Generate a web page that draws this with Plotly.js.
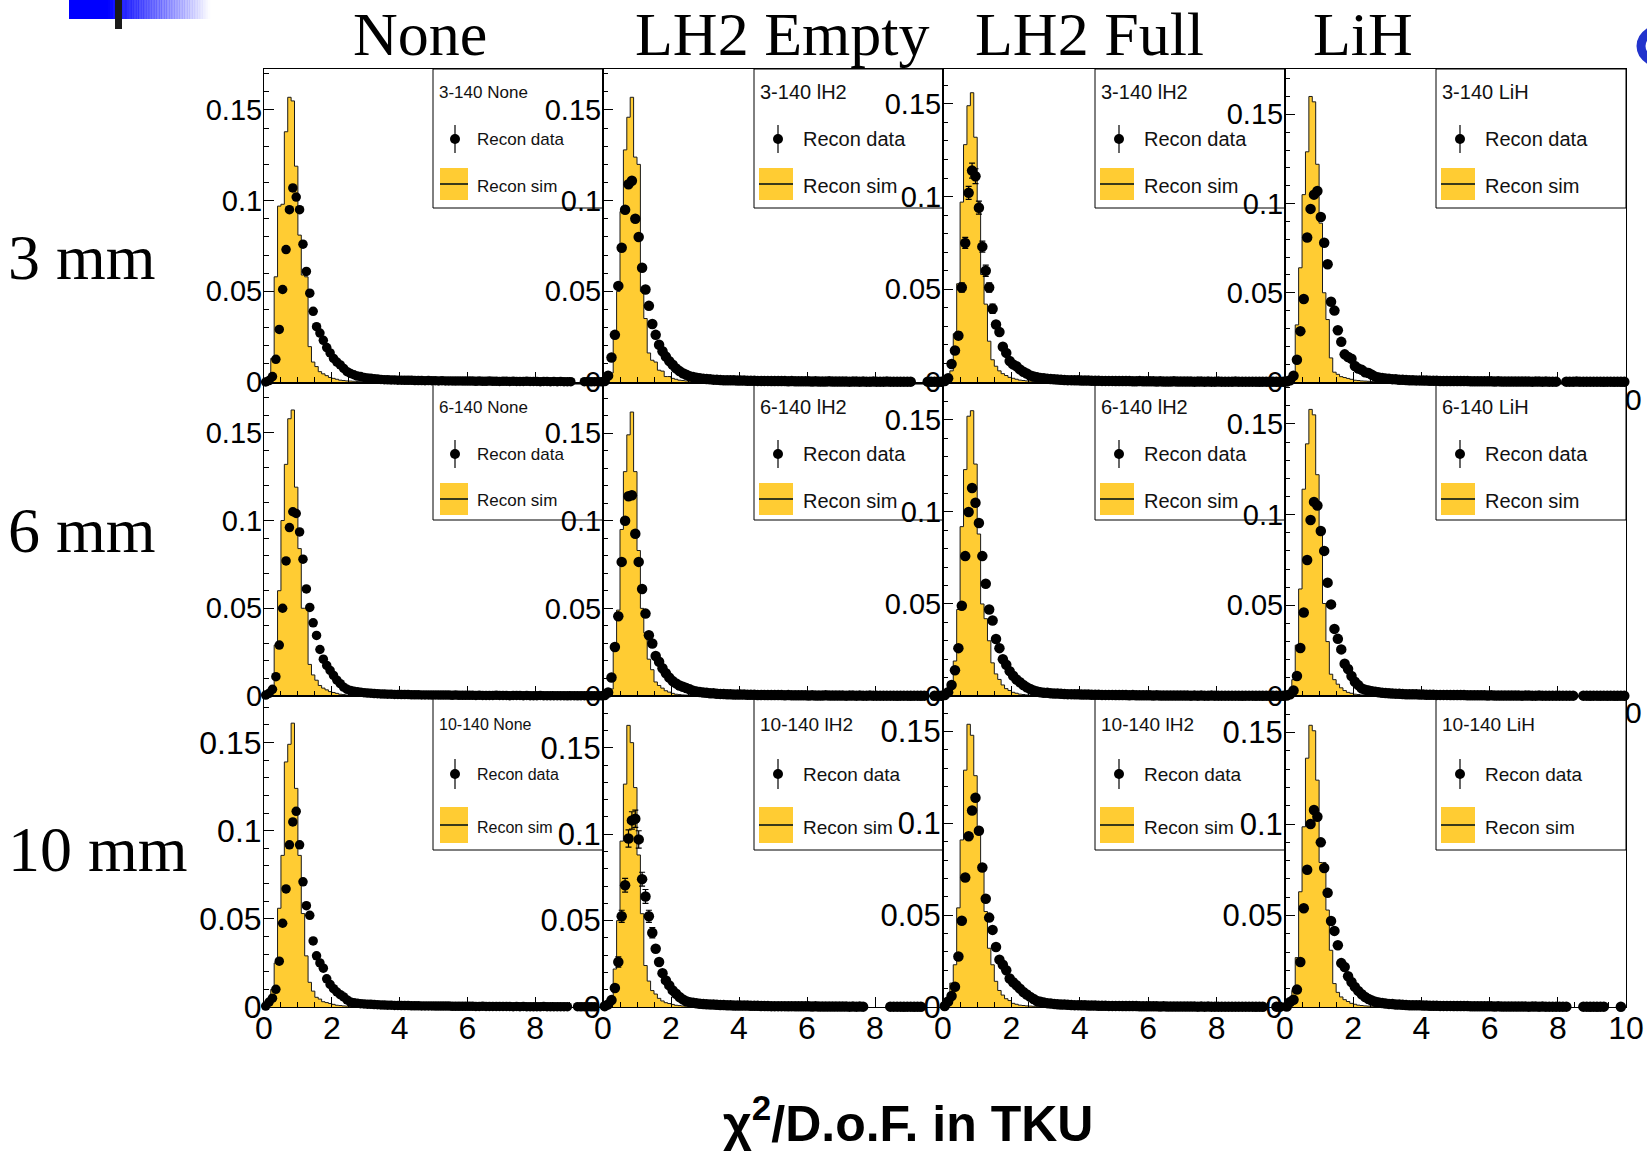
<!DOCTYPE html>
<html><head><meta charset="utf-8">
<script src="https://cdn.plot.ly/plotly-3.0.1.min.js"></script>
<style>html,body{margin:0;padding:0;background:#fff;} #chart{width:1647px;height:1152px;}</style>
</head><body><div id="chart"></div>
<script>
// All histogram contents below are listed in thousandths (x 1e-3), 0.1-wide bins from 0 to 10.
const UNIT = 0.001;
const columnTitles = ['None', 'LH2 Empty', 'LH2 Full', 'LiH'];
const rowTitles = ['3 mm', '6 mm', '10 mm'];
const legendTitles = [
  ['3-140 None', '3-140 lH2', '3-140 lH2', '3-140 LiH'],
  ['6-140 None', '6-140 lH2', '6-140 lH2', '6-140 LiH'],
  ['10-140 None', '10-140 lH2', '10-140 lH2', '10-140 LiH']
];
const dataLabel = 'Recon data', simLabel = 'Recon sim';
const xTitle = 'χ<sup>2</sup>/D.o.F. in TKU';
const xTickValsInner = [0, 2, 4, 6, 8];
const xTickValsLast = [0, 2, 4, 6, 8, 10];

// ---------- 3 mm ----------
const sim_3mm_None = [0.5,2,13,58,97,98,138,157,155,119, 81,59,58,19.5,11,8.5,5.7,4.5,3.5,2.5, 2,1.5,1,0.8,0.6,0.5,0.4,0.3,0.2,0.1];
const data_3mm_None = [
 0,0.8,3,12.5,29,51,73,95,107,102,
 95,76,61,49,39,30.5,27,23,19,16,
 13,11,9.4,7.5,5.7,4.7,4,3.3,3,2.5,
 2.2,2,1.8,1.6,1.4,1.3,1.2,1.1,1.1,1,
 1,0.9,0.9,0.9,0.8,0.8,0.8,0.7,0.8,0.7,
 0.7,0.6,0.7,0.6,0.6,0.6,0.5,0.6,0.5,0.5,
 0.5,0.5,0.4,0.5,0.4,0.4,0.5,0.4,0.4,0.3,
 0.4,0.4,0.3,0.4,0.3,0.3,0.3,0.4,0.3,0.3,
 0.3,0.2,0.3,0.3,0.2,0.3,0.2,0.3,0.2,0.2,
 0.2,null,null,null,0.2,0.2,0.1,0.2,0.2,0.1];
const sim_3mm_LH2Empty = [0.5,2,5,26,50,94,128,146,157,124, 120,50,35,16,12,11,6.5,6,3,3, 2,1.5,1,0.8,0.6,0.5,0.4,0.3,0.2,0.1];
const data_3mm_LH2Empty = [
 0.5,3.5,13.5,26,53,74,95,109,111,90,
 80,63,51,42,32,26,20.5,17,14,11.5,
 9.5,7.5,6,4.8,4,3.2,2.7,2.3,2,1.8,
 1.6,1.5,1.3,1.2,1.1,1,1,0.9,0.9,0.8,
 0.8,0.8,0.7,0.7,0.7,0.6,0.6,0.6,0.6,0.5,
 0.5,0.5,0.5,0.5,0.4,0.5,0.4,0.4,0.4,0.4,
 0.4,0.3,0.4,0.3,0.3,0.3,0.4,0.3,0.3,0.3,
 0.3,0.3,0.2,0.3,0.3,0.2,0.3,0.2,0.2,0.3,
 0.2,0.2,0.2,0.3,0.2,0.2,0.2,0.2,0.2,0.2,
 0.2,null,null,null,null,0.2,0.1,0.2,0.1,0.1];
const sim_3mm_LH2Full = [0.5,2,6,26,53,97,128,149,156,132, 97,58,42,22,12,8.5,6,4.5,3.5,2.5, 2,1.5,1,0.8,0.6,0.5,0.4,0.3,0.2,0.1];
const data_3mm_LH2Full = [
 0.5,2,9.7,17,25,51,75,102,114,111,
 94,73,60,51,39.5,31,27,19,15.7,11.3,
 9.5,8.5,6.8,5.5,4.6,3.5,3,2.6,2.2,2,
 1.8,1.6,1.5,1.3,1.2,1.1,1,1,0.9,0.9,
 0.8,0.8,0.8,0.7,0.7,0.7,0.6,0.6,0.6,0.6,
 0.5,0.5,0.5,0.5,0.5,0.4,0.4,0.5,0.4,0.4,
 0.4,0.4,0.3,0.4,0.3,0.3,0.3,0.4,0.3,0.3,
 0.3,0.3,0.3,0.2,0.3,0.3,0.2,0.3,0.2,0.2,
 0.3,0.2,0.2,0.2,0.2,0.3,0.2,0.2,0.2,0.2,
 0.2,0.2,0.1,0.2,0.2,0.1,0.2,0.1,0.1,0.1];
const err_3mm_LH2Full = [0,0.4,1,1.5,2,2.5,3,3.5,4,4, 3.5,3,3,2.5,2.5];
const sim_3mm_LiH = [0.3,1,3,32,64,105,129,160,157,122, 89,50,35,13.5,5.5,4.3,3,2.5,2,1.5, 1,0.8,0.6,0.5,0.4,0.3,0.2,0.1];
const data_3mm_LiH = [
 0.3,1,3.5,12.5,28.5,46.5,81,97,105,107,
 92.5,78,66,45,40,29,22.5,15.5,14,13,
 9,7.5,6.8,5.5,5,4,3,2.5,2.2,2,
 1.8,1.6,1.5,1.3,1.2,1.1,1,1,0.9,0.9,
 0.8,0.8,0.7,0.7,0.7,0.6,0.6,0.6,0.5,0.6,
 0.5,0.5,0.5,0.5,0.4,0.4,0.4,0.4,0.4,0.4,
 0.4,0.3,0.4,0.3,0.3,0.3,0.3,0.3,0.3,0.3,
 0.3,0.3,0.2,0.3,0.3,0.2,0.3,0.2,0.2,0.2,
 null,null,0.2,0.2,0.2,0.3,0.2,0.2,0.2,0.2,
 0.2,0.2,0.2,0.1,0.2,0.2,0.1,0.2,0.1,0.1];

// ---------- 6 mm ----------
const sim_6mm_None = [0.5,2,4,29,60,100,132,158,163,119, 84,50,50,18,12,9,6,4.5,3.5,2.5, 2,1.5,1,0.8,0.6,0.5,0.4,0.3,0.2,0.1];
const data_6mm_None = [
 0.5,1.5,3.8,11,29,50,77,96,105,104,
 93.5,78,61,50.5,41.7,34.5,26.5,21,17.4,14.6,
 11.7,9,7,5,3.8,3.2,2.7,2.4,2.1,1.9,
 1.7,1.6,1.4,1.3,1.2,1.1,1,1,0.9,0.9,
 0.8,0.8,0.8,0.7,0.7,0.7,0.6,0.6,0.6,0.5,
 0.6,0.5,0.5,0.5,0.5,0.4,0.5,0.4,0.4,0.4,
 0.4,0.4,0.3,0.4,0.3,0.3,0.3,0.3,0.4,0.3,
 0.3,0.3,0.2,0.3,0.3,0.3,0.2,0.3,0.2,0.2,
 0.2,0.3,0.2,0.2,0.2,0.2,0.2,0.2,0.2,0.1,
 0.2,0.2,0.1,0.2,0.2,0.1,0.1,0.2,0.1,0.1];
const sim_6mm_LH2Empty = [0.5,1,4,28,49,95,128,149,162,128, 83,50,36,21,15,8,6,4.5,3,2.2, 1.5,1,0.8,0.6,0.5,0.4,0.3,0.2,0.1];
const data_6mm_LH2Empty = [
 0.5,2,10.6,28,45.5,76.5,100,114,114.5,92.6,
 76.5,61,47,34.7,30,22.8,19.5,15.8,13,10.5,
 8.5,7.2,6,5.3,4.5,3.8,3,2.6,2.3,2,
 1.8,1.6,1.5,1.3,1.2,1.1,1,1,0.9,0.9,
 0.8,0.8,0.7,0.7,0.7,0.6,0.6,0.6,0.6,0.5,
 0.5,0.5,0.5,0.4,0.5,0.4,0.4,0.4,0.4,0.4,
 0.3,0.4,0.3,0.3,0.3,0.4,0.3,0.3,0.3,0.3,
 0.3,0.2,0.3,0.3,0.2,0.3,0.2,0.2,0.3,0.2,
 0.2,0.2,0.2,0.2,0.2,0.2,0.1,0.2,0.2,0.2,
 0.1,0.2,0.2,0.1,0.2,null,null,0.1,0.2,0.1];
const sim_6mm_LH2Full = [0.5,1,4,19,47,92,123,152,155,126, 88,50,42,30,18,12,9,6,4,3, 2,1.5,1,0.8,0.6,0.5,0.4,0.3,0.2,0.1];
const data_6mm_LH2Full = [
 0.5,2,6,14,26,49,76,100,113,105,
 94,76,61,47,41,31,26,20,17,13.5,
 11,9,7.5,6,4.7,3.8,3,2.5,2,1.8,
 1.7,1.5,1.4,1.3,1.2,1.1,1,1,0.9,0.9,
 0.8,0.8,0.8,0.7,0.7,0.7,0.6,0.6,0.6,0.6,
 0.5,0.5,0.5,0.5,0.4,0.5,0.4,0.4,0.4,0.4,
 0.4,0.3,0.4,0.3,0.3,0.3,0.3,0.3,0.3,0.3,
 0.3,0.3,0.2,0.3,0.2,0.3,0.2,0.2,0.3,0.2,
 0.2,0.2,0.2,0.2,0.2,0.2,0.2,0.1,0.2,0.2,
 0.2,0.1,0.2,0.1,0.2,0.1,0.1,0.2,0.1,0.1];
const sim_6mm_LiH = [0.3,1,9,28,59,114,139,158,155,122, 90,51,30,12,9,6.5,4.5,3,2,1.5, 1,0.8,0.6,0.5,0.4,0.3,0.2,0.1];
const data_6mm_LiH = [
 0.3,1,3,11,26.5,46,75,97,107,105,
 91,80,62.5,50.5,37,31.5,25.7,17.8,14.9,11,
 7.9,6,4.2,3.5,3,2.6,2.3,2,1.8,1.6,
 1.5,1.4,1.3,1.2,1.1,1,1,0.9,0.9,0.8,
 0.8,0.7,0.7,0.7,0.6,0.6,0.6,0.6,0.5,0.5,
 0.5,0.5,0.5,0.4,0.4,0.4,0.4,0.4,0.4,0.3,
 0.4,0.3,0.3,0.3,0.3,0.3,0.3,0.3,0.3,0.2,
 0.3,0.3,0.2,0.2,0.3,0.2,0.2,0.2,0.2,0.2,
 0.2,0.2,0.2,0.2,0.2,null,null,0.2,0.2,0.1,
 0.2,0.2,0.1,0.2,0.1,0.2,0.1,0.1,0.2,0.1];

// ---------- 10 mm ----------
const sim_10mm_None = [0.5,2,10,25,56,86,139,149,161,124, 86,53,29,14,9,5.5,4.5,3,2.5,2, 1.5,1,0.8,0.6,0.5,0.4,0.3,0.2,0.1];
const data_10mm_None = [
 0.5,2.8,5,10,26,47.5,67,92,105,111,
 92,71,57.5,52,37.5,29,25,22,16,12.8,
 10.4,8.5,7,5.7,4,2.8,2.4,2.1,1.9,1.7,
 1.6,1.5,1.4,1.3,1.2,1.1,1,1,0.9,0.9,
 0.8,0.8,0.8,0.7,0.7,0.7,0.6,0.6,0.6,0.6,
 0.5,0.5,0.5,0.5,0.5,0.4,0.4,0.4,0.4,0.4,
 0.4,0.4,0.3,0.3,0.4,0.3,0.3,0.3,0.3,0.3,
 0.3,0.3,0.3,0.2,0.3,0.2,0.3,0.2,0.2,0.2,
 0.2,0.2,0.3,0.2,0.2,0.2,0.2,0.2,0.2,0.2,
 null,null,0.2,0.1,0.2,0.2,0.1,0.1,null,null];
const sim_10mm_LH2Empty = [0.5,2,5,22,50,96,129,163,153,127, 88,54,24,15,9.5,7.5,5,3.5,2.5,2, 1.5,1,0.8,0.6,0.5,0.4,0.3,0.2,0.1];
const data_10mm_LH2Empty = [
 0.5,1.5,4,11,26,52.5,70.5,97.5,108,109,
 97,74,64,52.5,43,33.7,26,19.6,15.4,12.5,
 9.6,7.7,5.8,4.4,3.3,2.8,2.4,2.1,1.9,1.7,
 1.6,1.5,1.4,1.3,1.2,1.1,1,1,0.9,0.9,
 0.8,0.8,0.8,0.7,0.7,0.7,0.6,0.6,0.6,0.5,
 0.5,0.5,0.5,0.5,0.4,0.5,0.4,0.4,0.4,0.4,
 0.4,0.3,0.4,0.3,0.3,0.3,0.3,0.3,0.3,0.3,
 0.3,0.3,0.2,0.3,0.2,0.3,0.2,null,null,null,
 null,null,null,null,0.2,0.2,0.2,0.2,0.1,0.2,
 0.2,0.1,0.2,0.1,null,null,null,null,null,null];
const err_10mm_LH2Empty = [0,0.5,1,2,3,3.5,4,5,5,5, 5,4,4,3.5,3];
const sim_10mm_LH2Full = [0.5,3,13,23,54,91,129,154,148,126, 98,75,52,32,23,14,9,6.5,4.5,3.5, 2,1.5,1,0.8,0.6,0.5,0.4,0.3,0.2,0.1];
const data_10mm_LH2Full = [
 0.5,3,6,11,27.5,47,70.5,93,107,114,
 96,76,59,48.7,42,32.7,25.8,23,20,15.5,
 13.5,11.8,10,8.2,6.8,5.5,4.4,3.3,2.8,2.4,
 2.1,1.9,1.7,1.5,1.4,1.3,1.2,1.1,1,1,
 0.9,0.9,0.8,0.8,0.8,0.7,0.7,0.7,0.6,0.6,
 0.6,0.6,0.5,0.5,0.5,0.5,0.5,0.4,0.4,0.4,
 0.4,0.4,0.4,0.3,0.4,0.3,0.3,0.3,0.3,0.3,
 0.3,0.3,0.3,0.3,0.2,0.3,0.2,0.3,0.2,0.2,
 0.2,0.2,0.2,0.2,0.2,0.2,0.2,0.2,0.2,0.2,
 0.2,0.1,0.2,0.1,null,null,null,0.2,0.1,null];
const sim_10mm_LiH = [0.3,2,9,27,63,98.5,136,154,151,124, 79,79,53,31,12.8,8,5.5,4,3,2, 1.5,1,0.8,0.6,0.5,0.4,0.3,0.2,0.1];
const data_10mm_LiH = [
 0.3,2.7,4,9.5,24.6,54,75,100,107.7,104,
 90,76,62.4,47,41.6,33.8,24,21.9,16.8,13.7,
 11,8.8,7,5.5,4.4,3.5,2.9,2.5,2.2,1.9,
 1.7,1.6,1.4,1.3,1.2,1.1,1,1,0.9,0.9,
 0.8,0.8,0.7,0.7,0.7,0.6,0.6,0.6,0.6,0.5,
 0.5,0.5,0.5,0.5,0.4,0.4,0.4,0.4,0.4,0.4,
 0.4,0.3,0.4,0.3,0.3,0.3,0.3,0.3,0.3,0.3,
 0.3,0.2,0.3,0.3,0.2,0.3,0.2,0.2,0.2,0.2,
 0.2,0.2,0.2,null,null,null,null,0.2,0.2,0.1,
 0.2,0.1,0.2,0.2,null,null,null,null,0.1,null];

const grid = [
  [[sim_3mm_None,data_3mm_None,null],[sim_3mm_LH2Empty,data_3mm_LH2Empty,null],[sim_3mm_LH2Full,data_3mm_LH2Full,err_3mm_LH2Full],[sim_3mm_LiH,data_3mm_LiH,null]],
  [[sim_6mm_None,data_6mm_None,null],[sim_6mm_LH2Empty,data_6mm_LH2Empty,null],[sim_6mm_LH2Full,data_6mm_LH2Full,null],[sim_6mm_LiH,data_6mm_LiH,null]],
  [[sim_10mm_None,data_10mm_None,null],[sim_10mm_LH2Empty,data_10mm_LH2Empty,err_10mm_LH2Empty],[sim_10mm_LH2Full,data_10mm_LH2Full,null],[sim_10mm_LiH,data_10mm_LiH,null]]
];

// ---------- layout geometry (pixels) ----------
const W = 1647, H = 1152;
const colPx = [[264,603],[603,943],[943,1285],[1285,1626]];
const rowPx = [[69,382],[384,696],[696,1007]];
const yTop = [[0.1726,0.1726,0.1688,0.1754],[0.1778,0.178,0.1695,0.172],[0.1764,0.18,0.1694,0.170]];
const legLeft = [433,754,1095,1436];
const legBottom = [208,520,850];
const tickFont = [29,29,31];
const px = p => p / W;
const py = p => 1 - p / H;

const traces = [];
const layout = {
  width: W, height: H, margin: {l:0,r:0,t:0,b:0},
  paper_bgcolor: '#ffffff', plot_bgcolor: 'rgba(0,0,0,0)',
  showlegend: false, shapes: [], annotations: []
};
const SANS = 'Liberation Sans, Arial, sans-serif';
const SERIF = 'Liberation Serif, Times New Roman, serif';

let n = 0;
for (let r = 0; r < 3; r++) {
  for (let c = 0; c < 4; c++) {
    n++;
    const sfx = n === 1 ? '' : String(n);
    const [sim, dat, err] = grid[r][c];
    // simulation histogram (filled step)
    const sx = [0], sy = [0];
    sim.forEach((v, i) => { sx.push(i / 10); sy.push(v * UNIT); });
    sx.push(sim.length / 10); sy.push(sim[sim.length - 1] * UNIT);
    sx.push(sim.length / 10); sy.push(0);
    traces.push({type:'scatter', mode:'lines', x:sx, y:sy, xaxis:'x'+sfx, yaxis:'y'+sfx,
      line:{shape:'hv', color:'#1a1a1a', width:1}, fill:'tozeroy', fillcolor:'#FFCC33', hoverinfo:'skip'});
    // recon data points
    const dx = dat.map((v, k) => (k + 0.5) / 10);
    const dy = dat.map(v => v === null ? null : v * UNIT);
    const tr = {type:'scatter', mode:'markers', x:dx, y:dy, xaxis:'x'+sfx, yaxis:'y'+sfx,
      marker:{color:'#000', size: c === 0 ? 9.5 : 10.5}, cliponaxis:false, hoverinfo:'skip'};
    if (err) {
      tr.error_y = {type:'data', array: dat.map((v, k) => k < err.length ? err[k] * UNIT : 0),
        color:'#000', thickness:1.2, width:3, visible:true};
    }
    traces.push(tr);

    const common = {showline:true, mirror:true, linecolor:'#000', linewidth:1, showgrid:false, zeroline:false,
      ticks:'inside', tickcolor:'#000', tickwidth:1, ticklen:10, fixedrange:true};
    layout['xaxis'+sfx] = Object.assign({}, common, {
      domain:[px(colPx[c][0]), px(colPx[c][1])], range:[0,10], anchor:'y'+sfx,
      tickmode:'array', tickvals: c === 3 ? xTickValsLast : xTickValsInner,
      minor:{ticks:'inside', ticklen:5, dtick:0.5, tick0:0, tickcolor:'#000', tickwidth:1},
      showticklabels: r === 2, tickfont:{family:SANS, size:32, color:'#000'}, ticklabelstandoff:-7
    });
    layout['yaxis'+sfx] = Object.assign({}, common, {
      domain:[py(rowPx[r][1]), py(rowPx[r][0])], range:[0, yTop[r][c]], anchor:'x'+sfx,
      tick0:0, dtick:0.05, minor:{ticks:'inside', ticklen:5, dtick:0.01, tickcolor:'#000', tickwidth:1},
      tickfont:{family:SANS, size: (r === 2 && c === 0) ? 32 : tickFont[r], color:'#000'}, ticklabelstandoff:-5
    });

    // legend box (drawn like the ROOT TLegend)
    const L = legLeft[c], T = rowPx[r][0], R = colPx[c][1], B = legBottom[r];
    layout.shapes.push({type:'rect', xref:'paper', yref:'paper', x0:px(L), x1:px(R), y0:py(B), y1:py(T),
      line:{color:'#000', width:1}, fillcolor:'rgba(0,0,0,0)', layer:'above'});
    const small = c === 0;
    const big = r === 2;
    const fs = small ? (big ? 16 : 17) : (big ? 19 : 20);
    const tY = T + (big ? 28 : 23), dY = T + (big ? 78 : 70), sY = T + (big ? 131 : 117);
    const rT = T + (big ? 111 : 99), rB = T + (big ? 147 : 131);
    const mX = L + (small ? 22 : 24), txX = L + (small ? 42 : 47);
    const rL = L + (small ? 7 : 5), rR = L + (small ? 35 : 39);
    const eh = big ? 15 : 14;
    layout.annotations.push(
      {xref:'paper', yref:'paper', x:px(L + 4), y:py(tY), xanchor:'left', yanchor:'middle', showarrow:false,
       text:legendTitles[r][c], font:{family:SANS, size:fs, color:'#111'}},
      {xref:'paper', yref:'paper', x:px(txX), y:py(dY), xanchor:'left', yanchor:'middle', showarrow:false,
       text:dataLabel, font:{family:SANS, size:fs, color:'#111'}},
      {xref:'paper', yref:'paper', x:px(txX), y:py(sY), xanchor:'left', yanchor:'middle', showarrow:false,
       text:simLabel, font:{family:SANS, size:fs, color:'#111'}}
    );
    layout.shapes.push(
      {type:'line', xref:'paper', yref:'paper', x0:px(mX), x1:px(mX), y0:py(dY - eh), y1:py(dY + eh), line:{color:'#000', width:1.2}, layer:'above'},
      {type:'circle', xref:'paper', yref:'paper', x0:px(mX - 5), x1:px(mX + 5), y0:py(dY + 5), y1:py(dY - 5), fillcolor:'#000', line:{color:'#000', width:0}, layer:'above'},
      {type:'rect', xref:'paper', yref:'paper', x0:px(rL), x1:px(rR), y0:py(rB), y1:py(rT), fillcolor:'#FFCC33', line:{width:0}, layer:'above'},
      {type:'line', xref:'paper', yref:'paper', x0:px(rL), x1:px(rR), y0:py((rT + rB) / 2), y1:py((rT + rB) / 2), line:{color:'#3a3a1a', width:2}, layer:'above'}
    );
  }
}

// column titles, row titles, axis title
const colCenters = [420, 782, 1089, 1363];
columnTitles.forEach((t, i) => layout.annotations.push({xref:'paper', yref:'paper', x:px(colCenters[i]), y:py(34),
  xanchor:'center', yanchor:'middle', showarrow:false, text:t, font:{family:SERIF, size:62, color:'#000'}}));
const rowCenters = [257, 530, 849];
rowTitles.forEach((t, i) => layout.annotations.push({xref:'paper', yref:'paper', x:px(6), y:py(rowCenters[i]),
  xanchor:'left', yanchor:'middle', showarrow:false, text:t, font:{family:SERIF, size:64, color:'#000'}}));
layout.annotations.push({xref:'paper', yref:'paper', x:px(908), y:py(1120), xanchor:'center', yanchor:'middle',
  showarrow:false, text:'<b>' + xTitle + '</b>', font:{family:SANS, size:50, color:'#000'}});
// fragments of the hidden "10" labels at the right edge of rows 1 and 2
[399, 712].forEach(yy => layout.annotations.push({xref:'paper', yref:'paper', x:px(1633), y:py(yy), xanchor:'center', yanchor:'middle',
  showarrow:false, text:'0', font:{family:SANS, size:30, color:'#000'}}));

// slide decoration: blue gradient bar with dark tick, blue arc top-right
layout.shapes.push({type:'rect', xref:'paper', yref:'paper', x0:px(69), x1:px(108), y0:py(19), y1:py(0), fillcolor:'#0000ff', line:{width:0}, layer:'above'});
const steps = 40;
for (let i = 0; i < steps; i++) {
  const a = 1 - (i + 0.5) / steps;
  layout.shapes.push({type:'rect', xref:'paper', yref:'paper', x0:px(108 + i * 2.55), x1:px(108 + (i + 1) * 2.55 + 0.4), y0:py(19), y1:py(0),
    fillcolor:'rgba(0,0,255,' + a.toFixed(3) + ')', line:{width:0}, layer:'above'});
}
layout.shapes.push({type:'rect', xref:'paper', yref:'paper', x0:px(115), x1:px(122), y0:py(29), y1:py(0), fillcolor:'#1a1a1a', line:{width:0}, layer:'above'});
layout.shapes.push({type:'circle', xref:'paper', yref:'paper', x0:px(1641), x1:px(1700), y0:py(66), y1:py(26), fillcolor:'rgba(0,0,0,0)', line:{color:'#2233cc', width:9}, layer:'above'});

Plotly.newPlot('chart', traces, layout, {staticPlot:true, displayModeBar:false});
</script></body></html>
